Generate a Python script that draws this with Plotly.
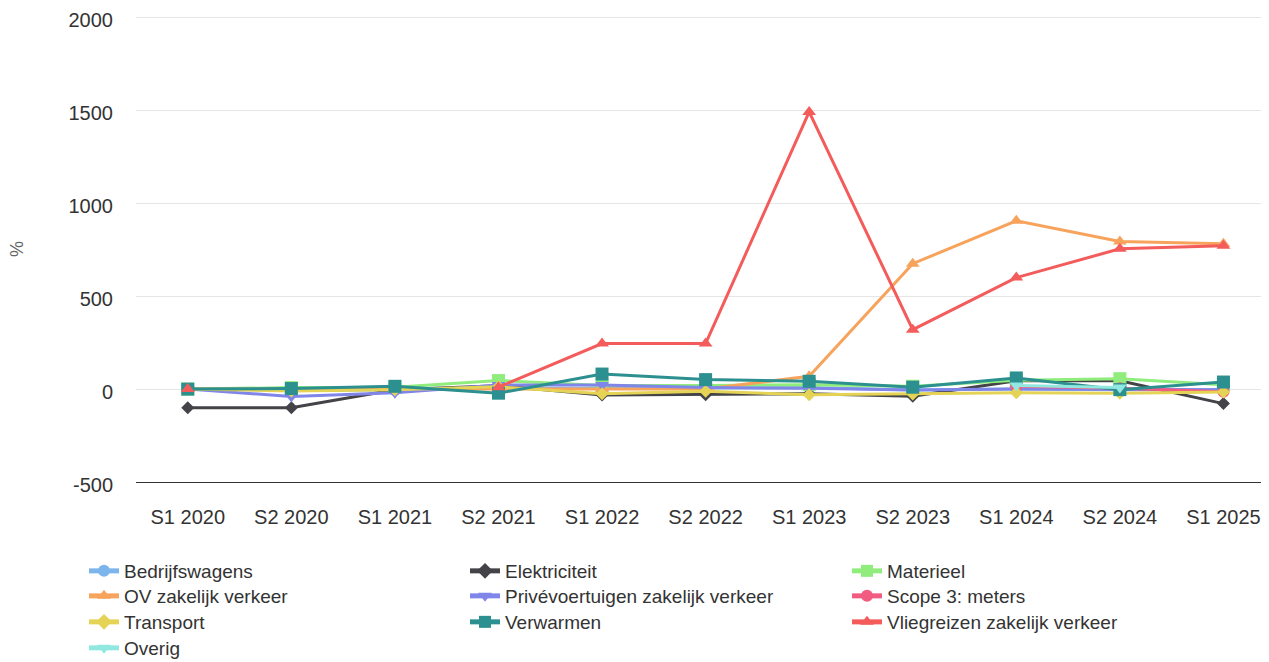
import plotly.graph_objects as go

categories = ["S1 2020", "S2 2020", "S1 2021", "S2 2021", "S1 2022", "S2 2022",
              "S1 2023", "S2 2023", "S1 2024", "S2 2024", "S1 2025"]

bedrijfswagens = [0, -5, -5, 5, 5, 5, 8, -5, 0, -3, -3]
elektriciteit = [-100, -100, -3, 18, -32, -30, -25, -38, 45, 45, -78]
materieel = [0, 8, 10, 46, 19, 19, 24, 15, 47, 56, 24]
ov_zakelijk = [0, 0, 0, 0, 0, 0, 69, 675, 906, 795, 782]
prive = [0, -40, -20, 22, 22, 8, 5, -5, 0, 0, -3]
scope3_meters = [None, None, None, None, None, None, None, None, 15, 5, -14]
transport = [0, -10, -3, 12, -25, -12, -30, -26, -20, -22, -15]
verwarmen = [0, 3, 15, -22, 81, 51, 42, 10, 60, -3, 38]
vliegreizen = [0, None, None, 10, 245, 245, 1492, 320, 600, 755, 772]
overig = [None, None, None, None, None, None, None, None, 20, 8, None]

y_ticks = [-500, 0, 500, 1000, 1500, 2000]
y_tick_labels = ["-500", "0", "500", "1000", "1500", "2000"]

series = [
    ("Bedrijfswagens", bedrijfswagens, "#7cb5ec", "circle", 12),
    ("Elektriciteit", elektriciteit, "#434348", "diamond", 10),
    ("Materieel", materieel, "#90ed7d", "square", 13),
    ("OV zakelijk verkeer", ov_zakelijk, "#f7a35c", "triangle-up", 12),
    ("Privévoertuigen zakelijk verkeer", prive, "#8085e9", "triangle-down", 12),
    ("Scope 3: meters", scope3_meters, "#f15c80", "circle", 12),
    ("Transport", transport, "#e4d354", "diamond", 10),
    ("Verwarmen", verwarmen, "#2b908f", "square", 13),
    ("Vliegreizen zakelijk verkeer", vliegreizen, "#f45b5b", "triangle-up", 12),
    ("Overig", overig, "#91e8e1", "triangle-down", 12),
]

W, H = 1261, 654          # page body has an 8px margin
OFF = 8
font_family = "Liberation Sans, Arial, sans-serif"

# y scale: 2000 at page y 17.5, -500 at page y 482.5
px_per_unit = (482.5 - 17.5) / 2500.0
y_top = 2008
plot_top_page = 17.5 - (y_top - 2000) * px_per_unit

# legend grid: 3 columns (text starts), 4 rows (text centers), page pixels
col_text_x = [124, 505, 887]
row_center_y = [571, 596, 622, 648]

fig = go.Figure()
legends = {}
for i, (name, vals, color, symbol, size) in enumerate(series):
    key = "legend" if i == 0 else f"legend{i + 1}"
    fig.add_trace(go.Scatter(
        x=categories, y=vals, name=name, mode="lines+markers",
        line=dict(color=color, width=3),
        marker=dict(symbol=symbol, size=size, color=color, line=dict(width=0)),
        connectgaps=False, legend=key,
    ))
    r, c = divmod(i, 3)
    lx = col_text_x[c] - OFF - 40
    ly = row_center_y[r] - OFF - 19
    legends[key] = dict(
        xref="container", yref="container",
        x=lx / W, y=1 - ly / H,
        xanchor="left", yanchor="top",
        font=dict(size=19, color="#333333"),
        bgcolor="rgba(0,0,0,0)",
        itemsizing="constant",
    )

fig.add_annotation(
    text="%", textangle=-90,
    xref="paper", yref="paper",
    x=0, y=0.5,
    xanchor="center", yanchor="middle",
    xshift=17 - 136,
    showarrow=False,
    font=dict(size=18, color="#666666", family=font_family),
)

fig.update_layout(
    width=W, height=H,
    margin=dict(l=136 - OFF, r=0, t=plot_top_page - OFF, b=H - (482.5 - OFF),
                autoexpand=False),
    paper_bgcolor="white", plot_bgcolor="white",
    font=dict(family=font_family, size=20, color="#333333"),
    showlegend=True,
    xaxis=dict(
        type="category",
        range=[-0.5, 10.44],
        showgrid=False,
        showline=True, linecolor="#333333", linewidth=1,
        ticks="", ticklabelstandoff=17, tickangle=0,
        tickfont=dict(size=20, color="#333333"),
        zeroline=False, automargin=False,
    ),
    yaxis=dict(
        range=[-500, y_top],
        tickvals=y_ticks, ticktext=y_tick_labels,
        showgrid=True, gridcolor="#e6e6e6", gridwidth=1,
        zeroline=False, showline=False,
        ticks="", ticklabelstandoff=22, ticklabelshift=3,
        ticklabeloverflow="allow",
        tickfont=dict(size=20, color="#333333"),
        automargin=False,
    ),
    **legends,
)

fig.write_html("out.html")
